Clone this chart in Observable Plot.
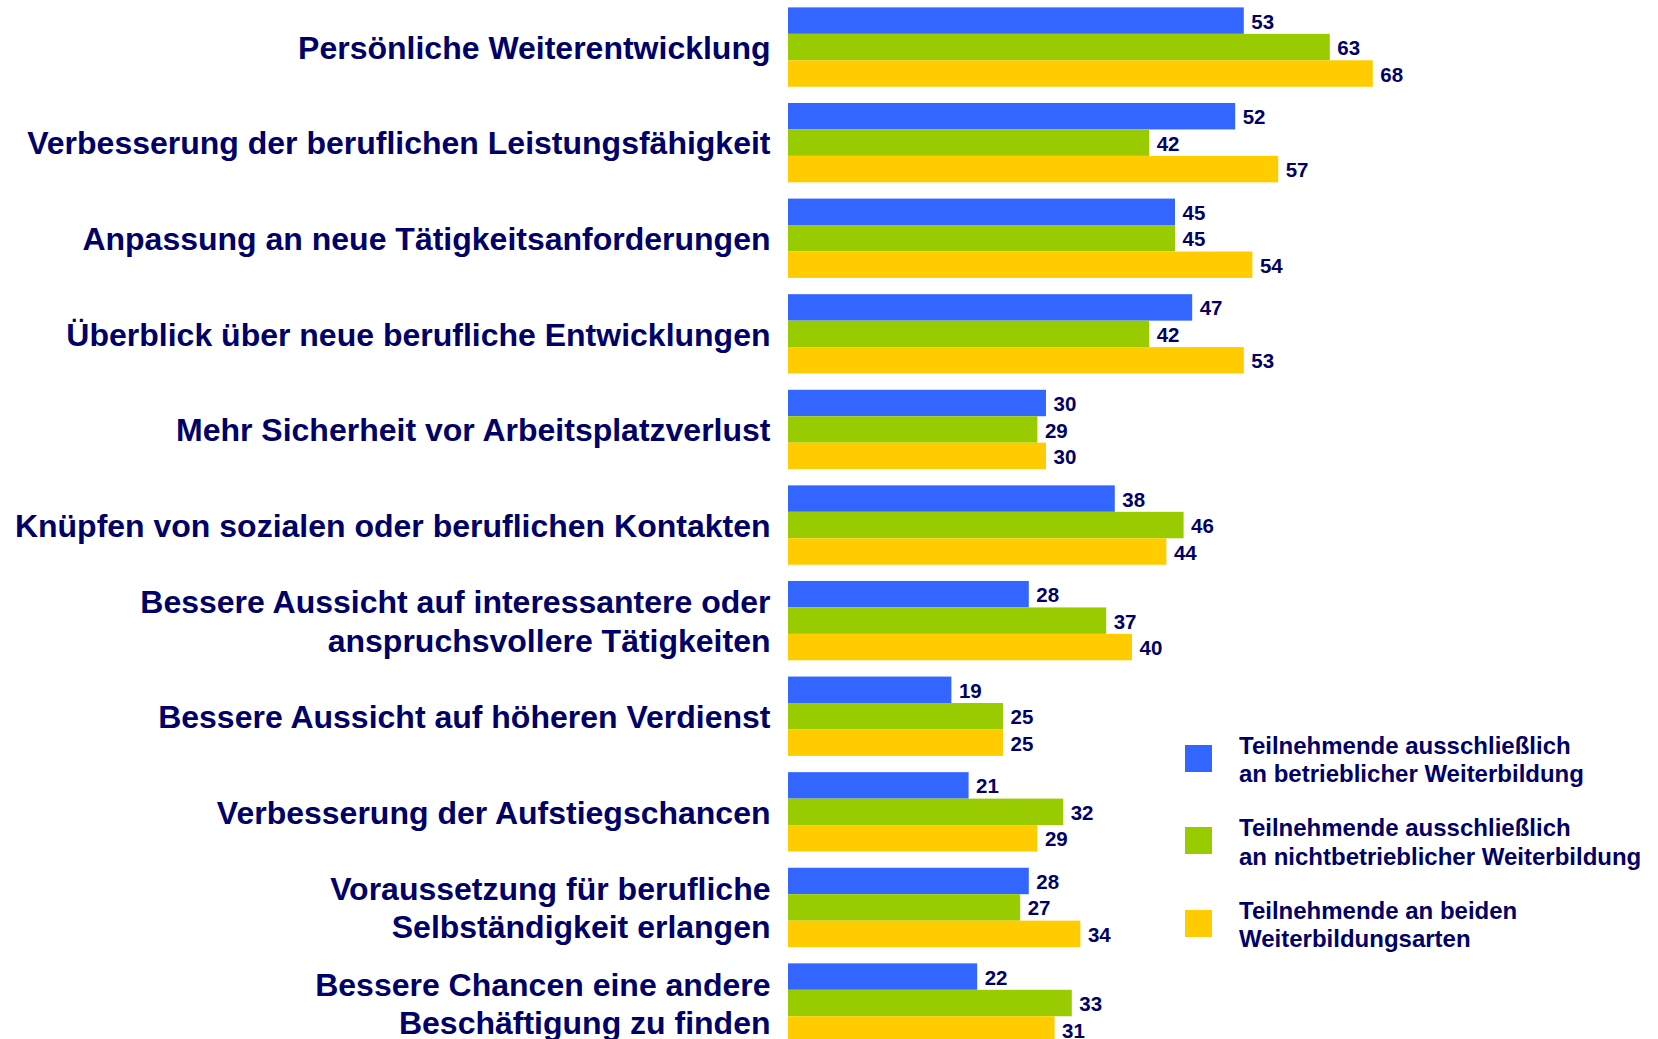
<!DOCTYPE html>
<html><head><meta charset="utf-8">
<script src="https://cdn.jsdelivr.net/npm/d3@7"></script>
<script src="https://cdn.jsdelivr.net/npm/@observablehq/plot@0.6"></script>
<style>
html,body{margin:0;padding:0;background:#fff;overflow:hidden;width:1658px;height:1039px;}
#wrap{position:relative;width:1658px;height:1039px;}
#legend{position:absolute;left:0;top:0;font-family:"Liberation Sans",Arial,sans-serif;font-weight:bold;color:#000066;font-size:24px;line-height:28.5px;}
.item{position:absolute;left:1185px;height:60px;display:flex;align-items:center;white-space:nowrap;}
.sw{width:27px;height:27px;margin-right:27px;flex:none;position:relative;top:-2px;}
</style></head>
<body><div id="wrap"><div id="chart"></div><div id="legend"></div></div>
<script>
const categories = [
  "Persönliche Weiterentwicklung",
  "Verbesserung der beruflichen Leistungsfähigkeit",
  "Anpassung an neue Tätigkeitsanforderungen",
  "Überblick über neue berufliche Entwicklungen",
  "Mehr Sicherheit vor Arbeitsplatzverlust",
  "Knüpfen von sozialen oder beruflichen Kontakten",
  "Bessere Aussicht auf interessantere oder\nanspruchsvollere Tätigkeiten",
  "Bessere Aussicht auf höheren Verdienst",
  "Verbesserung der Aufstiegschancen",
  "Voraussetzung für berufliche\nSelbständigkeit erlangen",
  "Bessere Chancen eine andere\nBeschäftigung zu finden"
];
const series = [
  "Teilnehmende ausschließlich\nan betrieblicher Weiterbildung",
  "Teilnehmende ausschließlich\nan nichtbetrieblicher Weiterbildung",
  "Teilnehmende an beiden\nWeiterbildungsarten"
];
const betrieblich =      [53, 52, 45, 47, 30, 38, 28, 19, 21, 28, 22];
const nichtbetrieblich = [63, 42, 45, 42, 29, 46, 37, 25, 32, 27, 33];
const beide =            [68, 57, 54, 53, 30, 44, 40, 25, 29, 34, 31];
const colors = ["#3366FF", "#99CC00", "#FFCC00"];

const seriesValues = [betrieblich, nichtbetrieblich, beide];
const rows = [];
categories.forEach((c, i) => series.forEach((s, j) => rows.push({cat: c, series: s, value: seriesValues[j][i]})));

const navy = "#000066";
const font = "'Liberation Sans', Arial, sans-serif";

const chart = Plot.plot({
  width: 1658, height: 1039,
  marginLeft: 788, marginRight: 10, marginTop: 0, marginBottom: 0,
  style: {fontFamily: font, background: "white", overflow: "hidden"},
  x: {domain: [0, 100], axis: null},
  fy: {domain: categories, range: [7.4, 1042.7], paddingInner: 0.17, paddingOuter: 0, round: false, axis: null, label: null},
  y: {domain: series, padding: 0, round: false, axis: null},
  color: {domain: series, range: colors},
  marks: [
    Plot.barX(rows, {fy: "cat", y: "series", x: "value", fill: "series"}),
    Plot.text(rows, {fy: "cat", y: "series", x: "value", text: d => String(d.value), dx: 7, dy: 1, textAnchor: "start",
      fill: navy, fontSize: 20.5, fontWeight: "bold"}),
    Plot.text(categories, {fy: d => d, text: d => d, frameAnchor: "left", textAnchor: "end", dx: -18, dy: -1,
      fill: navy, fontSize: 32, fontWeight: "bold", lineHeight: 1.2})
  ]
});
document.getElementById("chart").appendChild(chart);

const legend = document.getElementById("legend");
series.forEach((s, i) => {
  const it = document.createElement("div");
  it.className = "item";
  it.style.top = (730 + i * 82.5) + "px";
  const sw = document.createElement("div");
  sw.className = "sw"; sw.style.background = colors[i];
  const tx = document.createElement("div");
  tx.innerHTML = s.split("\n").join("<br>");
  it.appendChild(sw); it.appendChild(tx);
  legend.appendChild(it);
});
</script></body></html>
